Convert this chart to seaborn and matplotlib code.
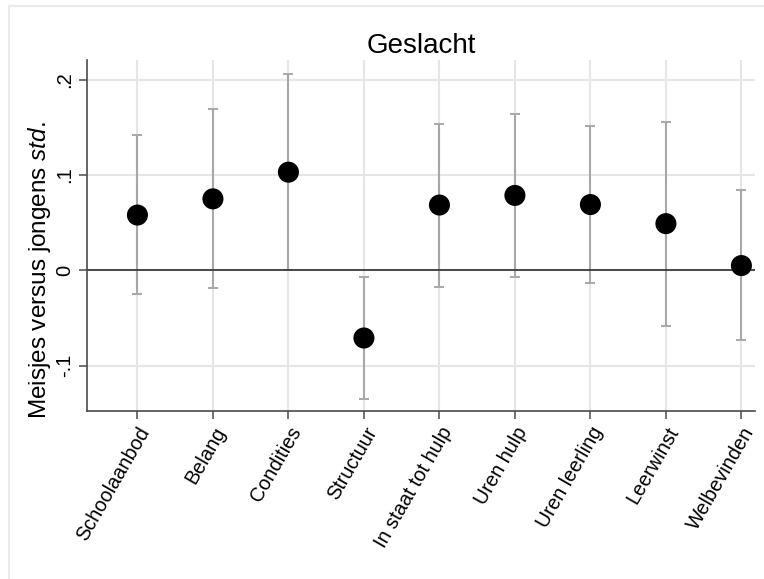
import numpy as np
import pandas as pd
import matplotlib.pyplot as plt
import seaborn as sns
from matplotlib.patches import Rectangle

categories = ["Schoolaanbod", "Belang", "Condities", "Structuur", "In staat tot hulp",
              "Uren hulp", "Uren leerling", "Leerwinst", "Welbevinden"]
estimates = [0.058, 0.075, 0.103, -0.071, 0.0685, 0.0786, 0.069, 0.049, 0.005]
ci_low = [-0.025, -0.019, 0.000, -0.135, -0.017, -0.007, -0.013, -0.058, -0.073]
ci_high = [0.142, 0.169, 0.206, -0.007, 0.154, 0.164, 0.151, 0.156, 0.084]
ytick_values = [-0.1, 0, 0.1, 0.2]
ytick_labels = ["-.1", "0", ".1", ".2"]

df = pd.DataFrame({"categorie": categories, "schatting": estimates,
                   "laag": ci_low, "hoog": ci_high})
df["pos"] = np.arange(len(df))

sns.set_theme(style="whitegrid")
plt.rcParams["font.family"] = ["Liberation Sans", "DejaVu Sans"]
plt.rcParams["mathtext.fontset"] = "custom"
plt.rcParams["mathtext.rm"] = "Liberation Sans"
plt.rcParams["mathtext.it"] = "Liberation Sans:italic"
plt.rcParams["text.color"] = "black"
plt.rcParams["axes.labelcolor"] = "black"

fig = plt.figure(figsize=(7.64, 5.79), dpi=100)
fig.patch.set_facecolor("white")
ax = fig.add_axes([87 / 764, 1 - 411 / 579, (755 - 87) / 764, (411 - 60) / 579])

# betrouwbaarheidsintervallen
ax.errorbar(df["pos"], df["schatting"],
            yerr=[df["schatting"] - df["laag"], df["hoog"] - df["schatting"]],
            fmt="none", ecolor="#a8a8a8", elinewidth=1.5, capsize=3.6, capthick=1.4, zorder=2)
ax.axhline(0, color="#3c3c3c", lw=1.3, zorder=2.5)
sns.scatterplot(data=df, x="pos", y="schatting", ax=ax, s=230, color="black",
                edgecolor="none", zorder=3, legend=False)

ax.set_xlim(-0.668, 8.18)
ax.set_ylim(-0.1476, 0.2207)
ax.set_xticks(df["pos"])
ax.set_xticklabels(categories, rotation=60, ha="right", rotation_mode="anchor", fontsize=14.3)
ax.set_yticks(ytick_values)
ax.set_yticklabels(ytick_labels, rotation=90, va="center", fontsize=14.5)

ax.grid(True, color="#e6e6e6", lw=1.5)
ax.set_facecolor("white")
for side in ["top", "right"]:
    ax.spines[side].set_visible(False)
for side in ["left", "bottom"]:
    ax.spines[side].set_color("#4a4a4a")
    ax.spines[side].set_linewidth(1.2)
ax.tick_params(axis="both", which="major", length=6, width=1.1, color="#4a4a4a",
               direction="out", bottom=True, left=True, labelcolor="black")
ax.tick_params(axis="x", pad=3)
ax.tick_params(axis="y", pad=3)

ax.set_xlabel("")
ax.set_ylabel("Meisjes versus jongens $\\mathit{std.}$", fontsize=17.5)
ax.yaxis.set_label_coords(-0.051, 0.40)
ax.set_title("Geslacht", fontsize=20, pad=5, color="black")

fig.patches.append(Rectangle((9 / 764, -0.05), 1.1, 1 - 6 / 579 + 0.05,
                             transform=fig.transFigure, fill=False,
                             edgecolor="#ebebeb", lw=1.5))

fig.savefig("out.png", dpi=100)
